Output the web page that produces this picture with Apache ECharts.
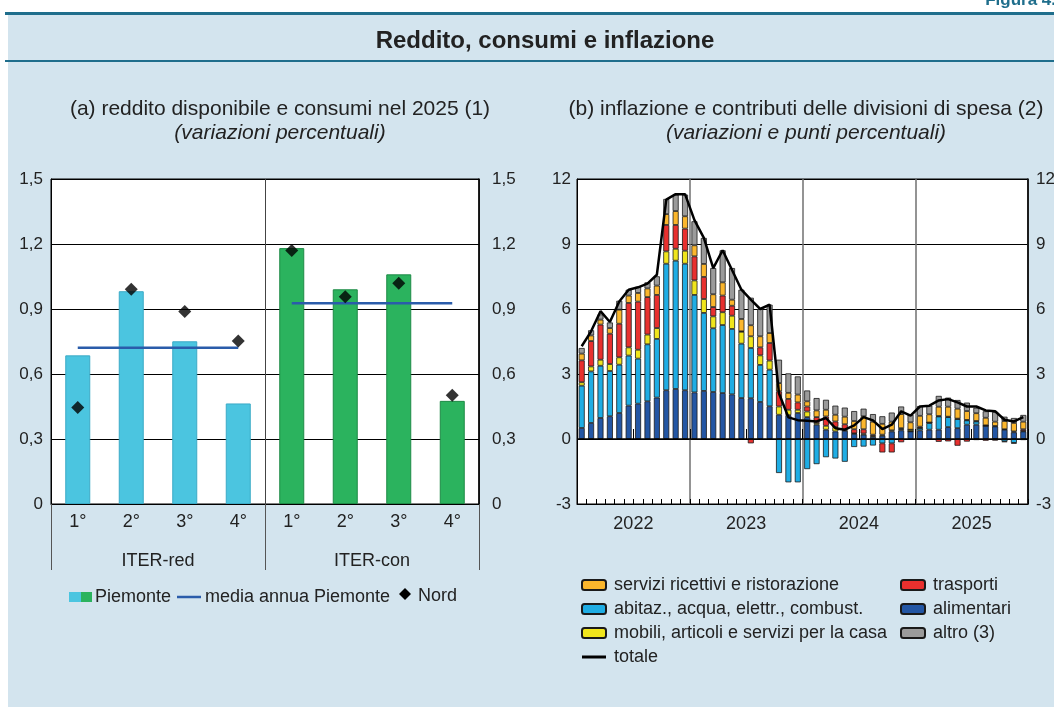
<!DOCTYPE html>
<html><head><meta charset="utf-8">
<script src="https://cdn.jsdelivr.net/npm/echarts@6/dist/echarts.min.js"></script>
<style>html,body{margin:0;padding:0;background:#fff}#c{width:1054px;height:707px}</style>
</head><body><div id="c"></div>
<script>
const FONT = '"Liberation Sans", Arial, Helvetica, sans-serif';
const TXT = '#222';

// ---------- Panel (a) ----------
const quartiliA = ['1°','2°','3°','4°','1°','2°','3°','4°'];
const gruppiA = ['ITER-red','ITER-con'];
const piemonte = [0.686,0.982,0.751,0.464,1.181,0.991,1.060,0.476];
const nord = [0.445,0.991,0.888,0.752,1.170,0.957,1.019,0.502];
const mediaRed = [0.721,0.721,0.721,0.721,null,null,null,null];
const mediaCon = [null,null,null,null,0.926,0.926,0.926,0.926];
const yTicksA = [0,0.3,0.6,0.9,1.2,1.5];

// ---------- Panel (b) ----------
const anni = ['2022','2023','2024','2025'];
const nomiMesi = ['gen','feb','mar','apr','mag','giu','lug','ago','set','ott','nov','dic'];
const semestri = ['I','II'];
const alimentari = [
 0.51,0.74,0.97,1.05,1.20,1.54,1.63,1.74,1.91,2.25,2.31,2.25,
 2.15,2.22,2.17,2.12,2.06,1.89,1.88,1.71,1.51,1.12,1.10,1.20,
 1.01,0.66,0.43,0.35,0.38,0.24,0.20,0.10,0.15,0.35,0.40,0.35,
 0.40,0.43,0.43,0.55,0.50,0.66,0.66,0.61,0.58,0.43,0.31,0.35];
const abitazione = [
 1.95,2.38,2.41,2.09,2.23,2.31,2.08,2.63,2.71,5.84,5.92,5.84,
 4.50,3.60,2.94,3.14,3.02,2.51,2.32,1.71,1.69,-1.57,-2.00,-2.00,
 -1.39,-1.16,-0.84,-0.90,-1.05,-0.37,-0.35,-0.30,-0.20,-0.20,0.05,0.00,
 0.10,0.31,0.61,0.46,0.42,0.20,0.15,0.00,-0.02,-0.11,-0.18,-0.05];
const mobili = [
 0.16,0.23,0.28,0.32,0.34,0.38,0.41,0.45,0.50,0.57,0.55,0.60,
 0.67,0.64,0.55,0.59,0.61,0.55,0.54,0.44,0.42,0.38,0.25,0.15,
 0.26,0.08,0.18,0.20,0.05,0.02,0.05,0.05,0.05,0.05,0.05,0.08,
 0.02,0.02,0.02,0.02,0.02,0.02,0.02,0.02,0.02,0.02,0.04,0.02];
const trasporti = [
 1.01,1.17,1.62,1.40,1.55,2.05,2.22,1.73,1.53,1.22,1.10,1.02,
 1.11,1.02,0.43,0.77,0.46,0.02,-0.20,0.37,0.81,0.70,0.50,0.34,
 0.23,0.27,0.43,0.26,0.25,0.19,0.20,0.05,-0.42,-0.42,-0.15,0.00,
 0.05,0.00,-0.13,-0.11,-0.31,-0.12,-0.05,-0.08,-0.05,-0.03,-0.03,0.08];
const servizi = [
 0.31,0.26,0.23,0.26,0.65,0.34,0.40,0.40,0.43,0.50,0.64,0.57,
 0.51,0.60,0.59,0.61,0.28,0.57,0.51,0.51,0.46,0.38,0.28,0.36,
 0.24,0.31,0.31,0.31,0.35,0.38,0.60,0.60,0.50,0.40,0.65,0.34,
 0.50,0.38,0.43,0.46,0.46,0.41,0.36,0.35,0.20,0.38,0.39,0.35];
const altro = [
 0.26,0.24,0.24,0.26,0.41,0.27,0.28,0.28,0.43,0.70,0.76,1.00,
 1.11,1.20,1.21,1.48,1.46,1.35,1.27,1.26,1.31,1.08,0.90,0.84,
 0.50,0.57,0.46,0.42,0.42,0.46,0.35,0.35,0.35,0.42,0.35,0.35,
 0.45,0.40,0.50,0.42,0.40,0.39,0.25,0.30,0.45,0.20,0.23,0.31];
const totale = [
 4.28,4.97,5.90,5.40,6.35,6.89,7.00,7.17,7.58,11.05,11.30,11.30,
 10.10,9.28,7.89,8.71,7.80,6.89,6.43,6.00,6.20,2.10,1.00,0.87,
 0.84,0.81,0.97,0.50,0.43,0.63,1.01,0.86,0.46,0.66,1.28,1.08,
 1.50,1.54,1.78,1.84,1.69,1.50,1.50,1.32,1.28,0.89,0.81,1.01];
const yTicksB = [-3,0,3,6,9,12];

const mesi = anni.flatMap(a => nomiMesi.map(m => m + ' ' + a));
const semi = anni.flatMap(a => semestri.map(s => s + ' ' + a));

const CYAN = '#4BC5E0', GREEN = '#2BB35E', MEDIA = '#2A5CAA';
const C_SERV = '#FBB62C', C_ABIT = '#1FADE4', C_MOB = '#F0E51C', C_TRA = '#E8302E', C_ALI = '#2356A4', C_ALT = '#9B9B9B';

const fmtA = v => v === 0 ? '0' : v.toFixed(1).replace('.', ',');
const labY = {color: TXT, fontSize: 17, fontFamily: FONT};
const labX = {color: TXT, fontSize: 18, fontFamily: FONT};

function stackBar(name, data, color) {
  return {name, type:'bar', stack:'contr', xAxisIndex:2, yAxisIndex:2, barWidth:6,
    itemStyle:{color, borderColor:'#1a1a1a', borderWidth:0.8}, data, animation:false};
}

const chart = echarts.init(document.getElementById('c'), null, {renderer:'canvas'});
const BG = '#D3E4EE', TEAL = '#1F6E8C';
const legText = {color:TXT, fontSize:18, fontFamily:FONT, lineHeight:18, padding:[0,0,0,3]};
const option = {
  backgroundColor:'#fff',
  animation:false,
  textStyle:{fontFamily:FONT},
  title:[
    {text:'Reddito, consumi e inflazione', left:540, top:24, textAlign:'center',
     textStyle:{fontFamily:FONT, fontWeight:'bold', fontSize:24, color:TXT}},
    {text:'(a) reddito disponibile e consumi nel 2025 (1)', subtext:'(variazioni percentuali)',
     left:275, top:94, textAlign:'center', itemGap:3,
     textStyle:{fontFamily:FONT, fontWeight:'normal', fontSize:21, color:TXT},
     subtextStyle:{fontFamily:FONT, fontStyle:'italic', fontSize:21, color:TXT}},
    {text:'(b) inflazione e contributi delle divisioni di spesa (2)', subtext:'(variazioni e punti percentuali)',
     left:801, top:94, textAlign:'center', itemGap:3,
     textStyle:{fontFamily:FONT, fontWeight:'normal', fontSize:21, color:TXT},
     subtextStyle:{fontFamily:FONT, fontStyle:'italic', fontSize:21, color:TXT}}
  ],
  graphic:[
    {type:'rect', z:-10, shape:{x:8, y:14, width:1046, height:693}, style:{fill:BG}},
    {type:'rect', z:-9, shape:{x:5, y:12, width:1049, height:3}, style:{fill:TEAL}},
    {type:'rect', z:-9, shape:{x:5, y:60, width:1049, height:2}, style:{fill:TEAL}},
    {type:'text', x:1056, y:9, style:{text:'Figura 4.', fill:TEAL, font:'bold 17px ' + FONT, textAlign:'right', textVerticalAlign:'bottom'}},
    // legend panel (a)
    {type:'rect', shape:{x:69, y:592, width:12, height:10}, style:{fill:CYAN}},
    {type:'rect', shape:{x:81, y:592, width:11, height:10}, style:{fill:GREEN}},
    {type:'text', x:95, y:597, style:{text:'Piemonte', fill:TXT, font:'18px ' + FONT, textVerticalAlign:'middle'}},
    {type:'line', shape:{x1:177, y1:597, x2:201, y2:597}, style:{stroke:MEDIA, lineWidth:2.5}},
    {type:'text', x:205, y:597, style:{text:'media annua Piemonte', fill:TXT, font:'18px ' + FONT, textVerticalAlign:'middle'}},
    {type:'polygon', shape:{points:[[405,588],[411,594],[405,600],[399,594]]}, style:{fill:'#000'}},
    {type:'text', x:418, y:596, style:{text:'Nord', fill:TXT, font:'18px ' + FONT, textVerticalAlign:'middle'}}
  ],
  legend:[
    {data:['servizi ricettivi e ristorazione','abitaz., acqua, elettr., combust.','mobili, articoli e servizi per la casa',
           {name:'totale', icon:'path://M0 0 H24 V3 H0 Z', itemStyle:{color:'#000', borderWidth:0}}],
     orient:'vertical', left:581, top:576, padding:0, itemWidth:24, itemHeight:10, itemGap:6, textStyle:legText},
    {data:['trasporti','alimentari','altro (3)'],
     orient:'vertical', left:900, top:576, padding:0, itemWidth:24, itemHeight:10, itemGap:6, textStyle:legText}
  ],
  grid:[
    {left:51, top:179, width:428, height:325, show:true, backgroundColor:'#fff', borderColor:'#000', borderWidth:1, outerBoundsMode:'none'},
    {left:577, top:179, width:451, height:325, show:true, backgroundColor:'#fff', borderColor:'#000', borderWidth:1, outerBoundsMode:'none'}
  ],
  xAxis:[
    {type:'category', gridIndex:0, data:quartiliA, position:'bottom',
     axisLine:{lineStyle:{color:'#000', width:1}}, axisTick:{show:false},
     axisLabel:Object.assign({margin:9, interval:0}, labX), splitLine:{show:false}},
    {type:'category', gridIndex:0, data:gruppiA, position:'bottom',
     axisLine:{show:false}, axisTick:{show:true, length:66, interval:0, lineStyle:{color:'#555', width:1}},
     axisLabel:Object.assign({margin:48, interval:0}, labX),
     splitLine:{show:true, interval:0, lineStyle:{color:'#444', width:1}}},
    {type:'category', gridIndex:1, data:mesi, position:'bottom',
     axisLine:{onZero:false, lineStyle:{color:'#000', width:1}},
     axisTick:{show:true, inside:true, length:5, interval:0, lineStyle:{color:'#000'}},
     axisLabel:{show:false}, splitLine:{show:false}},
    {type:'category', gridIndex:1, data:anni, position:'bottom',
     axisLine:{show:false}, axisTick:{show:false},
     axisLabel:Object.assign({margin:11, interval:0}, labX),
     splitLine:{show:true, interval:0, lineStyle:{color:'#707070', width:1.5}}},
    {type:'category', gridIndex:1, data:semi, position:'bottom',
     axisLine:{show:false}, axisTick:{show:true, inside:true, length:10, interval:0, lineStyle:{color:'#000'}},
     axisLabel:{show:false}, splitLine:{show:false}}
  ],
  yAxis:[
    {type:'value', gridIndex:0, position:'left', min:yTicksA[0], max:yTicksA[yTicksA.length-1], interval:0.3,
     axisLine:{show:true, lineStyle:{color:'#000'}}, axisTick:{show:false},
     axisLabel:Object.assign({margin:8, formatter:fmtA}, labY),
     splitLine:{show:true, lineStyle:{color:'#000', width:1}}},
    {type:'value', gridIndex:0, position:'right', min:yTicksA[0], max:yTicksA[yTicksA.length-1], interval:0.3,
     axisLine:{show:true, lineStyle:{color:'#000', width:1.5}}, axisTick:{show:false},
     axisLabel:Object.assign({margin:13, formatter:fmtA}, labY), splitLine:{show:false}},
    {type:'value', gridIndex:1, position:'left', min:yTicksB[0], max:yTicksB[yTicksB.length-1], interval:3,
     axisLine:{show:true, lineStyle:{color:'#000'}}, axisTick:{show:false},
     axisLabel:Object.assign({margin:6}, labY),
     splitLine:{show:true, lineStyle:{color:'#000', width:1}}},
    {type:'value', gridIndex:1, position:'right', min:yTicksB[0], max:yTicksB[yTicksB.length-1], interval:3,
     axisLine:{show:true, lineStyle:{color:'#000', width:1.5}}, axisTick:{show:false},
     axisLabel:Object.assign({margin:8}, labY), splitLine:{show:false}}
  ],
  series:[
    {name:'Piemonte', type:'bar', xAxisIndex:0, yAxisIndex:0, barWidth:25,
     data:piemonte.map((v,i)=>({value:v, itemStyle:{color: i<4?CYAN:GREEN, borderColor: i<4?'#3BAAC6':'#1E8A46', borderWidth:1}}))},
    {name:'media annua Piemonte', type:'line', xAxisIndex:0, yAxisIndex:0, data:mediaRed, symbol:'none',
     lineStyle:{color:MEDIA, width:2.5}, itemStyle:{color:MEDIA}, z:5},
    {name:'media annua Piemonte', type:'line', xAxisIndex:0, yAxisIndex:0, data:mediaCon, symbol:'none',
     lineStyle:{color:MEDIA, width:2.5}, itemStyle:{color:MEDIA}, z:5},
    {name:'Nord', type:'scatter', xAxisIndex:0, yAxisIndex:0, data:nord, symbol:'diamond', symbolSize:13,
     itemStyle:{color:'#000'}, z:6},
    stackBar('alimentari', alimentari, C_ALI),
    stackBar('abitaz., acqua, elettr., combust.', abitazione, C_ABIT),
    stackBar('mobili, articoli e servizi per la casa', mobili, C_MOB),
    stackBar('trasporti', trasporti, C_TRA),
    stackBar('servizi ricettivi e ristorazione', servizi, C_SERV),
    Object.assign(stackBar('altro (3)', altro, C_ALT), {
      markLine:{silent:true, symbol:'none', label:{show:false}, animation:false,
        lineStyle:{color:'#000', width:1.5, type:'solid'}, data:[{yAxis:0}]}}),
    {name:'totale', type:'line', xAxisIndex:2, yAxisIndex:2, data:totale, symbol:'none',
     lineStyle:{color:'#000', width:2.5}, itemStyle:{color:'#000'}, z:10}
  ]
};
chart.setOption(option);
</script></body></html>
